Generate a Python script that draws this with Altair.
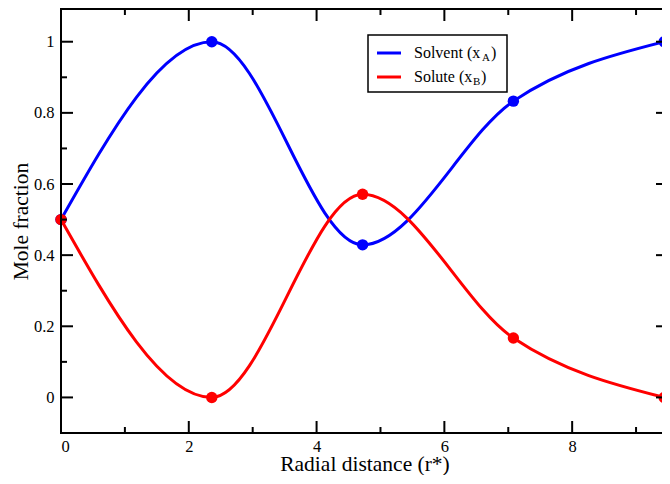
import altair as alt
import pandas as pd

# ---- data ----
r_star = [0.0, 2.36, 4.72, 7.08, 9.44]
solvent_xA = [0.5, 1.0, 0.429, 0.833, 1.0]
solute_xB = [0.5, 0.0, 0.571, 0.167, 0.0]

x_major = [0, 2, 4, 6, 8]
x_minor = [1, 3, 5, 7, 9]
y_major = [0, 0.2, 0.4, 0.6, 0.8, 1.0]
y_minor = [0.1, 0.3, 0.5, 0.7, 0.9]

legend_main = ["Solvent (x", "Solute (x"]
legend_sub = ["A", "B"]

W_VIS = 601      # visible part of the plot area (the page cuts it at the right edge)
W_FULL = 607     # full plot width used by the x scale
H = 424
FONT = "Liberation Serif"
BLUE = "#0000ff"
RED = "#ff0000"

xs = alt.Scale(domain=[0, 9.5], range=[0, W_FULL], nice=False, zero=False)
ys = alt.Scale(domain=[-0.1, 1.092], nice=False, zero=False)

solv = pd.DataFrame({"r": r_star, "x": solvent_xA})
solu = pd.DataFrame({"r": r_star, "x": solute_xB})

x_axis = alt.Axis(values=x_major, format="d", ticks=False, tickSize=0, domain=False, grid=False,
                  labelFont=FONT, labelFontSize=16.5, labelColor="black", labelPadding=5,
                  title="Radial distance (r*)", titleFont=FONT, titleFontSize=21.5,
                  titleFontWeight="normal", titleColor="black", titleBaseline="alphabetic",
                  titlePadding=16)
y_axis = alt.Axis(values=y_major,
                  labelExpr="datum.value == 0 ? '0' : datum.value == 1 ? '1' : format(datum.value, '.1f')",
                  ticks=False, tickSize=0, domain=False, grid=False,
                  labelFont=FONT, labelFontSize=16.5, labelColor="black", labelPadding=7,
                  title="Mole fraction", titleFont=FONT, titleFontSize=21.5,
                  titleFontWeight="normal", titleColor="black", titlePadding=1)

X = alt.X("r:Q", scale=xs, axis=x_axis)
Y = alt.Y("x:Q", scale=ys, axis=y_axis)

blue_line = alt.Chart(solv).mark_line(color=BLUE, strokeWidth=3, interpolate="monotone").encode(x=X, y=Y)
blue_pts = alt.Chart(solv).mark_circle(color=BLUE, size=130, opacity=1).encode(x=X, y=Y)
red_line = alt.Chart(solu).mark_line(color=RED, strokeWidth=3, interpolate="monotone").encode(x=X, y=Y)
red_pts = alt.Chart(solu).mark_circle(color=RED, size=130, opacity=1).encode(x=X, y=Y)


def yticks(vals, length):
    d = pd.DataFrame({"x": vals})
    left = alt.Chart(d).mark_rule(color="black", strokeWidth=2).encode(
        y=Y, x=alt.value(0), x2=alt.value(length))
    right = alt.Chart(d).mark_rule(color="black", strokeWidth=2).encode(
        y=Y, x=alt.value(W_FULL - length), x2=alt.value(W_VIS))
    return [left, right]


def xticks(vals, length):
    d = pd.DataFrame({"r": vals})
    bottom = alt.Chart(d).mark_rule(color="black", strokeWidth=2).encode(
        x=X, y=alt.value(H - length), y2=alt.value(H))
    top = alt.Chart(d).mark_rule(color="black", strokeWidth=2).encode(
        x=X, y=alt.value(0), y2=alt.value(length))
    return [bottom, top]


ticks = yticks(y_major, 12) + yticks(y_minor, 6) + xticks(x_major, 12) + xticks(x_minor, 6)

# ---- frame (left, top, bottom; the right side lies past the page edge) ----
one = pd.DataFrame({"a": [0]})
frame = [
    alt.Chart(one).mark_rule(color="black", strokeWidth=2).encode(
        x=alt.value(0), y=alt.value(-1), y2=alt.value(H + 1)),
    alt.Chart(one).mark_rule(color="black", strokeWidth=2).encode(
        y=alt.value(0), x=alt.value(-1), x2=alt.value(W_VIS)),
    alt.Chart(one).mark_rule(color="black", strokeWidth=2).encode(
        y=alt.value(H), x=alt.value(-1), x2=alt.value(W_VIS)),
]

# ---- legend box ----
LX0, LX1, LY0, LY1 = 307, 446, 26, 83
ROW = [44, 68]
box = alt.Chart(one).mark_rect(fill="white", stroke="black", strokeWidth=1.5).encode(
    x=alt.value(LX0), x2=alt.value(LX1), y=alt.value(LY0), y2=alt.value(LY1))
legend_layers = [box]
sub_x = [421, 412]
close_x = [430, 420]
for i, col in enumerate([BLUE, RED]):
    legend_layers.append(alt.Chart(one).mark_rule(color=col, strokeWidth=3).encode(
        x=alt.value(316), x2=alt.value(340), y=alt.value(ROW[i])))
    legend_layers.append(alt.Chart(one).mark_text(text=legend_main[i], align="left", baseline="middle",
                                                  font=FONT, fontSize=16, color="black").encode(
        x=alt.value(353), y=alt.value(ROW[i])))
    legend_layers.append(alt.Chart(one).mark_text(text=legend_sub[i], align="left", baseline="middle",
                                                  font=FONT, fontSize=11, color="black").encode(
        x=alt.value(sub_x[i]), y=alt.value(ROW[i] + 5)))
    legend_layers.append(alt.Chart(one).mark_text(text=")", align="left", baseline="middle",
                                                  font=FONT, fontSize=16, color="black").encode(
        x=alt.value(close_x[i]), y=alt.value(ROW[i])))

chart = alt.layer(blue_line, blue_pts, red_line, red_pts, *ticks, *frame, *legend_layers).properties(
    width=W_VIS, height=H,
    autosize=alt.AutoSizeParams(type="none"),
    padding={"left": 53, "top": 1, "right": 0, "bottom": 42},
    background="white"
).configure_view(stroke=None, strokeWidth=0)

chart.save("out.html", embed_options={"renderer": "svg", "actions": False})
